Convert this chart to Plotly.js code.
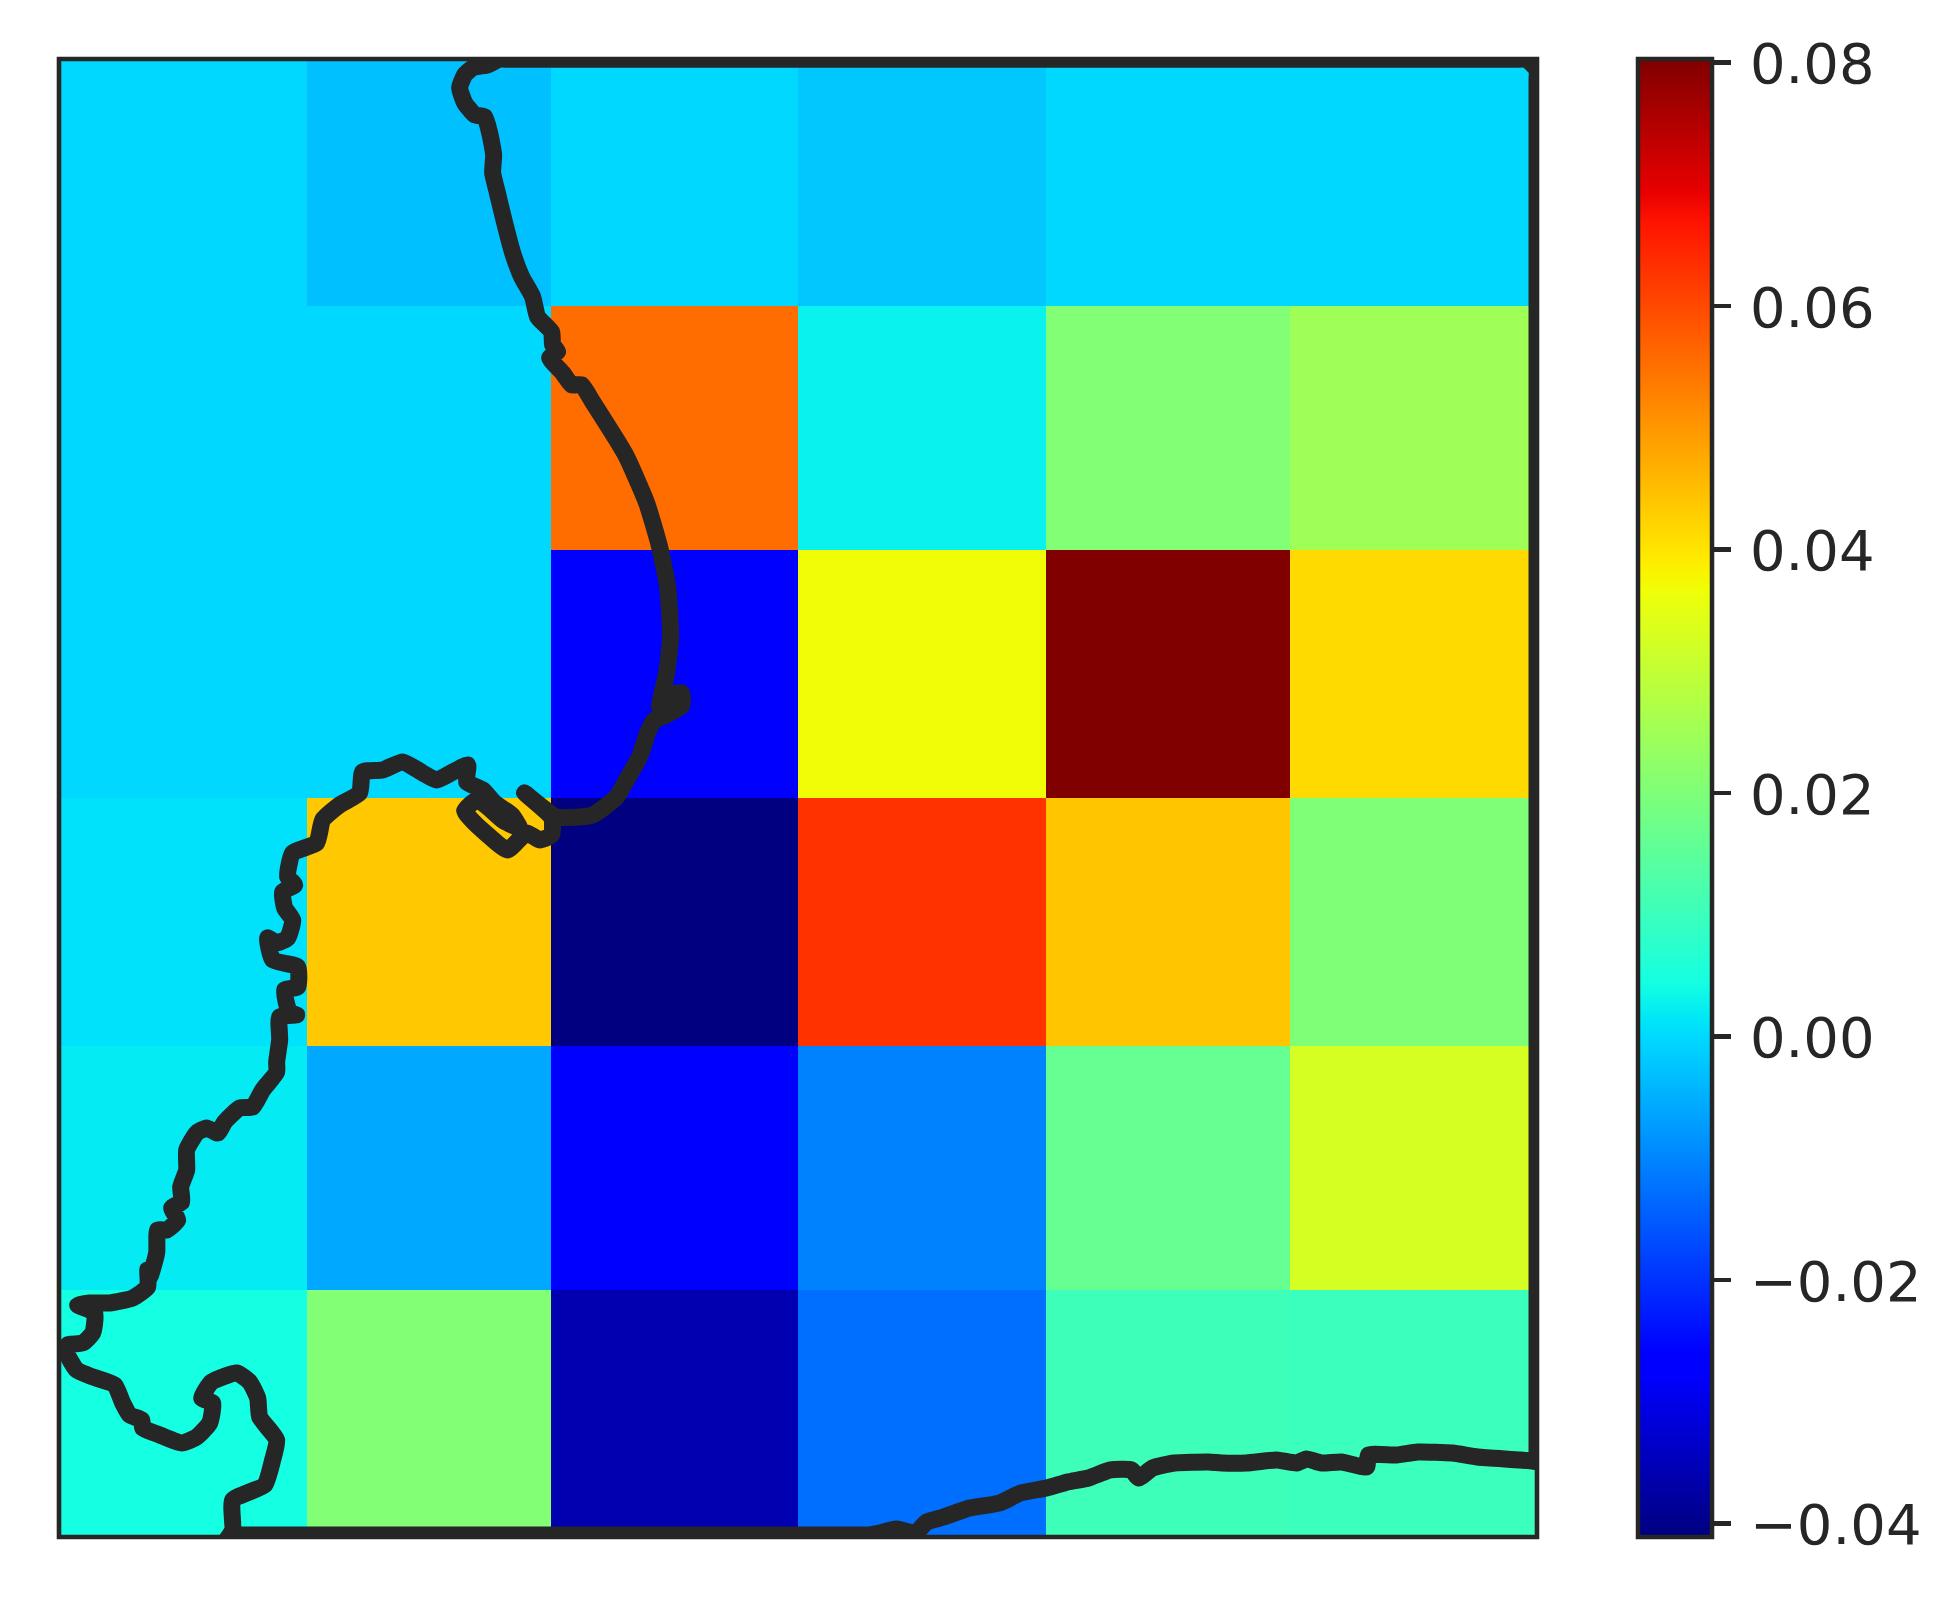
<!DOCTYPE html>
<html>
<head>
<meta charset="utf-8">
<script src="https://cdn.plot.ly/plotly-3.0.1.min.js"></script>
<style>
html,body{margin:0;padding:0;background:#fff}
.js-line{stroke-linejoin:round !important;stroke-linecap:round !important}
</style>
</head>
<body>
<div id="chart" style="width:1960px;height:1597px"></div>
<script>
const xEdges = [59.3, 307, 551, 798, 1046, 1290, 1537.5];
const yEdges = [59.2, 306, 550, 798, 1046, 1290, 1537];

const row0 = [-0.0002, -0.0031, -0.0002, -0.0021, -0.0002, -0.0002];
const row1 = [-0.0002, -0.0002, 0.0555, 0.0028, 0.0205, 0.0250];
const row2 = [-0.0002, -0.0002, -0.0268, 0.0368, 0.0803, 0.0414];
const row3 = [0.0008, 0.0437, -0.0411, 0.0629, 0.0439, 0.0200];
const row4 = [0.0020, -0.0059, -0.0268, -0.0104, 0.0162, 0.0327];
const row5 = [0.0044, 0.0205, -0.0361, -0.0128, 0.0103, 0.0101];

const colorTicks = [-0.04, -0.02, 0, 0.02, 0.04, 0.06, 0.08];

const jet = [
  [0, 'rgb(0,0,128)'], [0.11, 'rgb(0,0,255)'], [0.125, 'rgb(0,0,255)'],
  [0.34, 'rgb(0,219,255)'], [0.35, 'rgb(0,230,247)'], [0.375, 'rgb(21,255,226)'],
  [0.64, 'rgb(239,255,8)'], [0.65, 'rgb(247,246,0)'], [0.66, 'rgb(255,236,0)'],
  [0.89, 'rgb(255,19,0)'], [0.91, 'rgb(232,0,0)'], [1, 'rgb(128,0,0)']
];

const coastX = [1537.5,1537.5,1537.5,1537.5,1537.5,1527,1515,1000,510,500,488,473,465,460,465,475,485,490,494,493,497,505,513,522,533,538,552,553,558,550,563,572,582,593,
  617,627,647,660,668,671,667,660,670,682,682,665,655,648,640,627,617,593,557,525,552,552,540,527,508,487,471,465,477,488,504,520,512,495,
  483,467,468,437,423,403,383,363,360,340,323,317,293,288,295,283,285,293,288,277,268,273,298,298,285,290,297,
  280,280,277,277,263,253,240,225,218,207,197,187,187,181,182,172,178,167,158,157,150,148,148,133,110,90,78,95,93,83,68,67,
  77,93,115,123,130,142,143,160,182,197,210,213,202,212,237,250,258,260,277,273,265,233,233,227,233,245,255,550,860,870,
  880,897,916,927,944,970,1000,1021,1047,1068,1089,1111,1132,1139,1153,1175,1209,1222,1247,1277,1297,1307,1322,1342,1367,1369,
  1397,1418,1453,1478,1521,1540];
const coastY = [1462,1450,760,80,70,59.5,59.5,59.5,59.5,59.5,65,68,75,88,103,115,117,133,155,173,190,223,253,277,297,317,332,345,352,358,373,385,385,402,
  440,457,503,547,587,637,673,707,695,693,706,716,720,733,757,780,797,815,817,793,818,835,840,833,850,834,819,811,800,807,821,828,815,803,
  790,782,765,780,773,762,770,772,793,805,820,843,853,877,885,892,908,920,938,943,938,960,967,987,990,1013,1015,
  1017,1040,1062,1072,1090,1107,1108,1122,1133,1128,1133,1150,1170,1187,1202,1208,1220,1230,1230,1253,1277,1270,1287,1298,1303,1303,1305,1313,1333,1343,1345,1353,
  1370,1377,1385,1403,1415,1420,1428,1435,1443,1437,1423,1403,1398,1382,1373,1382,1398,1417,1440,1460,1485,1500,1530,1540,1535,1535,1535,1535,1535,1535,
  1533,1529,1533,1522,1517,1508,1503,1493,1488,1482,1478,1470,1470,1478,1468,1463,1462,1463,1463,1460,1463,1459,1463,1462,1467,1455,
  1455,1452,1453,1457,1460,1462];

const ink = '#262626';
const offAxisEdge = 3000;
const rows = [row0, row1, row2, row3, row4, row5];

const traces = [
  {
    type: 'heatmap',
    x: xEdges.concat(offAxisEdge),
    y: yEdges.concat(offAxisEdge),
    z: rows.map(r => r.concat(null)).concat([xEdges.map(() => null)]),
    zmin: -0.0411,
    zmax: 0.0803,
    colorscale: jet,
    hoverinfo: 'skip',
    colorbar: {
      x: (1638 - 59) / 1478, xanchor: 'left', xpad: 0,
      y: 0.5, yanchor: 'middle', ypad: 0,
      lenmode: 'fraction', len: 1,
      thicknessmode: 'pixels', thickness: 74,
      outlinecolor: ink, outlinewidth: 4.5,
      borderwidth: 0,
      tickmode: 'array', tickvals: colorTicks, tickformat: '.2f',
      ticks: 'outside', ticklen: 17, tickwidth: 4.6, tickcolor: ink,
      tickfont: { family: 'DejaVu Sans', size: 56, color: ink }
    }
  },
  {
    type: 'scatter', mode: 'lines', x: coastX, y: coastY,
    line: { color: ink, width: 17, simplify: false, shape: 'spline', smoothing: 0.5 },
    hoverinfo: 'skip', showlegend: false
  }
];

const layout = {
  width: 1960, height: 1597,
  margin: { l: 59.3, r: 422.5, t: 59.2, b: 60, pad: 0 },
  paper_bgcolor: '#ffffff', plot_bgcolor: '#ffffff',
  showlegend: false,
  xaxis: { range: [59.3, 1537.5], visible: false, fixedrange: true, automargin: false },
  yaxis: { range: [1537, 59.2], visible: false, fixedrange: true, automargin: false },
  shapes: [{
    type: 'rect', xref: 'paper', yref: 'paper', x0: 0, x1: 1, y0: 0, y1: 1,
    line: { color: ink, width: 4.6 }, layer: 'above', fillcolor: 'rgba(0,0,0,0)'
  }]
};

Plotly.newPlot('chart', traces, layout, { displayModeBar: false, staticPlot: true }).then(() => {
  document.querySelectorAll('.colorbar text').forEach(t => {
    t.setAttribute('transform', (t.getAttribute('transform') || '') + ' translate(8,1)');
  });
});
</script>
</body>
</html>
